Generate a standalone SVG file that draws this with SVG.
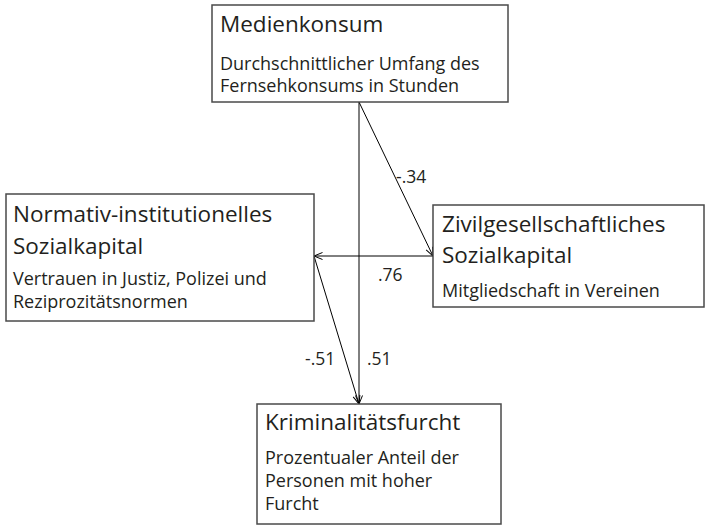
<svg xmlns="http://www.w3.org/2000/svg" width="705" height="527" viewBox="0 0 705 527">
  <style>
    .box { fill: #ffffff; stroke: #4a4a4a; stroke-width: 1.5; }
    .t { font-family: "Open Sans", "Noto Sans", sans-serif; font-size: 22.5px; fill: #231f20; }
    .s { font-family: "Open Sans", "Noto Sans", sans-serif; font-size: 18px; fill: #231f20; }
    .l { font-family: "Open Sans", "Noto Sans", sans-serif; font-size: 17.5px; fill: #231f20; }
    .c { stroke: #000000; stroke-width: 1; fill: none; marker-end: url(#arr); }
  </style>
  <defs>
    <marker id="arr" viewBox="0 0 10 10" refX="9.5" refY="5" markerWidth="10" markerHeight="10" markerUnits="userSpaceOnUse" orient="auto">
      <path d="M1,1.5 L9.5,5 L1,8.5" fill="none" stroke="#000" stroke-width="1"/>
    </marker>
  </defs>
  <rect width="705" height="527" fill="#ffffff"/>

  <g id="connectors">
    <line class="c" x1="359" y1="102" x2="359" y2="404"/>
    <line class="c" x1="359" y1="102" x2="433" y2="256"/>
    <line class="c" x1="433" y1="256" x2="314" y2="256"/>
    <line class="c" x1="314" y1="256" x2="359" y2="404"/>
    <text class="l" x="396" y="183">-.34</text>
    <text class="l" x="378" y="281">.76</text>
    <text class="l" x="305" y="365">-.51</text>
    <text class="l" x="367" y="365">.51</text>
  </g>

  <g id="medienkonsum">
    <rect class="box" x="212" y="5" width="296" height="97"/>
    <text class="t" x="220" y="32">Medienkonsum</text>
    <text class="s" x="220" y="70">Durchschnittlicher Umfang des</text>
    <text class="s" x="220" y="92">Fernsehkonsums in Stunden</text>
  </g>

  <g id="normativ">
    <rect class="box" x="6" y="194" width="308" height="127"/>
    <text class="t" x="13" y="222">Normativ-institutionelles</text>
    <text class="t" x="13" y="254">Sozialkapital</text>
    <text class="s" x="13" y="285">Vertrauen in Justiz, Polizei und</text>
    <text class="s" x="13" y="308">Reziprozitätsnormen</text>
  </g>

  <g id="zivil">
    <rect class="box" x="433" y="205" width="271" height="102"/>
    <text class="t" x="442" y="232">Zivilgesellschaftliches</text>
    <text class="t" x="442" y="263">Sozialkapital</text>
    <text class="s" x="442" y="297">Mitgliedschaft in Vereinen</text>
  </g>

  <g id="kriminalitaet">
    <rect class="box" x="257" y="404" width="244" height="120"/>
    <text class="t" x="265" y="430">Kriminalitätsfurcht</text>
    <text class="s" x="265" y="464">Prozentualer Anteil der</text>
    <text class="s" x="265" y="487">Personen mit hoher</text>
    <text class="s" x="265" y="510">Furcht</text>
  </g>
</svg>
